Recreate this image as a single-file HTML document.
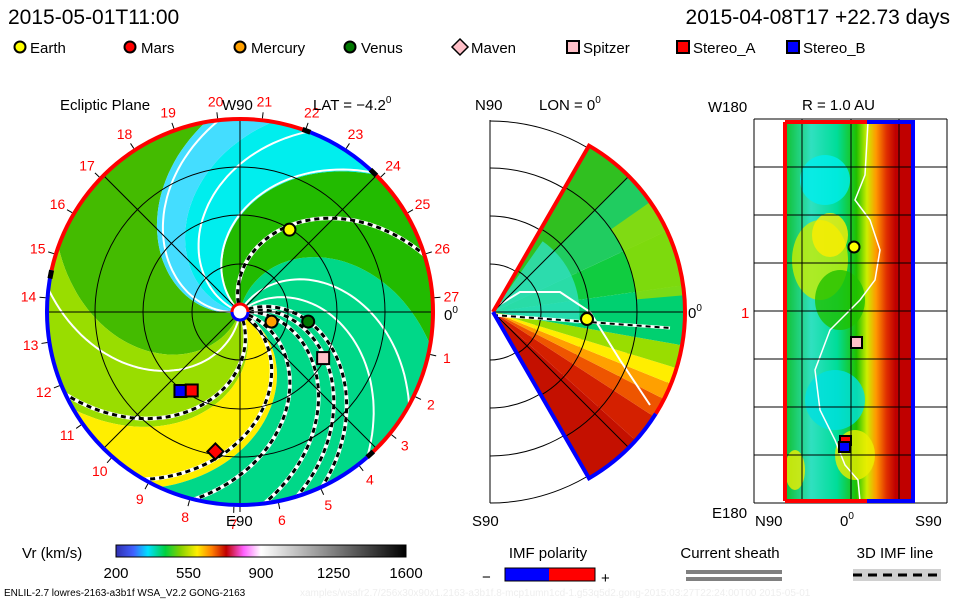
<!DOCTYPE html>
<html><head><meta charset="utf-8">
<style>
body{margin:0;background:#fff;}
svg{display:block;font-family:"Liberation Sans",sans-serif;}
</style></head>
<body>
<svg id="s" width="960" height="600" viewBox="0 0 960 600" xmlns="http://www.w3.org/2000/svg">
<defs>
<clipPath id="cc"><circle cx="240" cy="312" r="193"/></clipPath>
<linearGradient id="vrg" x1="0" x2="1" y1="0" y2="0">
<stop offset="0" stop-color="#3030b0"/><stop offset="0.06" stop-color="#4060ff"/><stop offset="0.11" stop-color="#00e0ff"/><stop offset="0.17" stop-color="#00d040"/><stop offset="0.22" stop-color="#80d000"/><stop offset="0.28" stop-color="#ffee00"/><stop offset="0.33" stop-color="#ff8000"/><stop offset="0.38" stop-color="#c00000"/><stop offset="0.44" stop-color="#ff60ff"/><stop offset="0.5" stop-color="#ffffff"/><stop offset="1" stop-color="#000000"/>
</linearGradient>
<linearGradient id="rg" x1="0" x2="1" y1="0" y2="0">
<stop offset="0" stop-color="#10c030"/><stop offset="0.2" stop-color="#30e0c0"/><stop offset="0.4" stop-color="#00dd99"/><stop offset="0.55" stop-color="#20c000"/><stop offset="0.63" stop-color="#ccee00"/><stop offset="0.7" stop-color="#ff9900"/><stop offset="0.78" stop-color="#e03000"/><stop offset="0.85" stop-color="#c00000"/><stop offset="1" stop-color="#c00000"/>
</linearGradient>
</defs>
<g id="left"></g>
<g id="mid"></g>
<g id="right"></g>

<text x="8" y="24" font-size="21">2015-05-01T11:00</text>
<text x="950" y="24" font-size="21" text-anchor="end">2015-04-08T17 +22.73 days</text>

<g font-size="15">
<g><circle cx="20" cy="47" r="5.5" fill="#ffff00" stroke="#000" stroke-width="2"/><text x="30" y="53">Earth</text></g>
<g><circle cx="130" cy="47" r="5.5" fill="#ff0000" stroke="#000" stroke-width="2"/><text x="141" y="53">Mars</text></g>
<g><circle cx="240" cy="47" r="5.5" fill="#ffa000" stroke="#000" stroke-width="2"/><text x="251" y="53">Mercury</text></g>
<g><circle cx="350" cy="47" r="5.5" fill="#007700" stroke="#000" stroke-width="2"/><text x="361" y="53">Venus</text></g>
<g><path d="M460 39 L468 47 L460 55 L452 47Z" fill="#ffc0c8" stroke="#000" stroke-width="1.5"/><text x="471" y="53">Maven</text></g>
<g><rect x="567" y="41" width="12" height="12" fill="#ffc0c8" stroke="#000" stroke-width="2"/><text x="583" y="53">Spitzer</text></g>
<g><rect x="677" y="41" width="12" height="12" fill="#ff0000" stroke="#000" stroke-width="2"/><text x="693" y="53">Stereo_A</text></g>
<g><rect x="787" y="41" width="12" height="12" fill="#0000ff" stroke="#000" stroke-width="2"/><text x="803" y="53">Stereo_B</text></g>
</g>

<g font-size="15">
<text x="60" y="110">Ecliptic Plane</text>
<text x="222" y="110">W90</text>
<text x="313" y="110">LAT = −4.2<tspan font-size="10" dy="-7">0</tspan></text>
<text x="475" y="110">N90</text>
<text x="539" y="110">LON = 0<tspan font-size="10" dy="-7">0</tspan></text>
<text x="802" y="110">R = 1.0 AU</text>
<text x="708" y="112">W180</text>
<text x="226" y="526">E90</text>
<text x="444" y="320">0<tspan font-size="10" dy="-7">0</tspan></text>
<text x="688" y="318">0<tspan font-size="10" dy="-7">0</tspan></text>
<text x="472" y="526">S90</text>
<text x="712" y="518">E180</text>
<text x="755" y="526">N90</text>
<text x="840" y="526">0<tspan font-size="10" dy="-7">0</tspan></text>
<text x="915" y="526">S90</text>
<text x="741" y="318" fill="#ff0000">1</text>
</g>

<g>
<text x="22" y="558" font-size="15">Vr (km/s)</text>
<rect x="116" y="545" width="290" height="12" fill="url(#vrg)" stroke="#000"/>
<g font-size="15" text-anchor="middle" id="cbt"></g>
</g>
<g>
<text x="548" y="558" font-size="15" text-anchor="middle">IMF polarity</text>
<rect x="505" y="568" width="44" height="13" fill="#0000ff"/><rect x="549" y="568" width="46" height="13" fill="#ff0000"/>
<rect x="505" y="568" width="90" height="13" fill="none" stroke="#000"/>
<text x="482" y="582" font-size="15">−</text><text x="601" y="583" font-size="15">+</text>
</g>
<g>
<text x="730" y="558" font-size="15" text-anchor="middle">Current sheath</text>
<rect x="686" y="570" width="96" height="4" fill="#808080"/><rect x="686" y="577" width="96" height="4" fill="#808080"/>
</g>
<g>
<text x="895" y="558" font-size="15" text-anchor="middle">3D IMF line</text>
<rect x="853" y="569" width="88" height="12" fill="#d0d0d0"/>
<line x1="853" y1="575" x2="941" y2="575" stroke="#000" stroke-width="3" stroke-dasharray="9,6"/>
</g>
<text x="4" y="596" font-size="10">ENLIL-2.7 lowres-2163-a3b1f WSA_V2.2 GONG-2163</text>
<text x="300" y="596" font-size="10" fill="#eeeeee">xamples/wsafr2.7/256x30x90x1.2163-a3b1f.8-mcp1umn1cd-1.g53q5d2.gong-2015:03:27T22:24:00T00    2015-05-01</text>
</svg>
<script>
// ---- data ----
var cbTicks=[200,550,900,1250,1600];
var bandStarts=[-171,-111,-61,-26,79,134,169];
var bandColors=["#44bb00","#99dd00","#ffee00","#00d888","#22bb00","#00eeee","#44ddff"];
var dashedSpirals=[106,-66,-31,-15,6,16,24];
var whiteSpirals=[-98,158,135,40,185,60];
var clockLabels=[1,2,3,4,5,6,7,8,9,10,11,12,13,14,15,16,17,18,19,20,21,22,23,24,25,26,27];
var polarityArcs=[[167.5,68.6,"#ff0000"],[68.6,45,"#0000ff"],[45,-48.8,"#ff0000"],[-48.8,-192.5,"#0000ff"]];
var planetNames=["earth","mercury","venus"];
var planetR=[0.99,0.34,0.71];
var planetLon=[59,-17,-8];
var planetFill=["#ffff00","#ffa000","#007700"];
var craftNames=["spitzer","stereo-b","stereo-a"];
var craftR=[0.98,1.02,0.95];
var craftLon=[-29,-127,-121.6];
var craftFill=["#ffc0c8","#0000ff","#ff0000"];
var marsR=1.46, marsLon=-100;
var midBandAngles=[-60,-42,-33,-27,-22,-17,-10,8,25,45,60];
var midBandColors=["#c41000","#d42000","#ee5500","#ffa000","#ffee00","#99dd00","#00d070","#10cc40","#20cc60","#30c020"];
// ---- helpers ----
var NS="http://www.w3.org/2000/svg";
function mk(p,tag,at){var e=document.createElementNS(NS,tag);for(var k in at)e.setAttribute(k,at[k]);p.appendChild(e);return e;}
var CX=240,CY=312,R=193,AU=97,C=0.46;
function pol(r,a){var t=a*Math.PI/180;return [CX+r*Math.cos(t),CY-r*Math.sin(t)];}
function spiralPts(t0,r1){var p=[];for(var r=0;r<=r1;r+=4){p.push(pol(r,t0-C*r));}return p;}
function ptsStr(p){return p.map(function(q){return q[0].toFixed(1)+","+q[1].toFixed(1);}).join(" ");}
var L=document.getElementById("left");
var g=mk(L,"g",{"clip-path":"url(#cc)"});


for(var i=0;i<bandStarts.length;i++){
 var a=bandStarts[i],b=(i+1<bandStarts.length?bandStarts[i+1]:bandStarts[0]+360);
 var p=spiralPts(a,212);var end=a-C*212,end2=b-C*212;
 for(var t=end;t<=end2;t+=3)p.push(pol(212,t));
 p=p.concat(spiralPts(b,212).reverse());
 var poly=mk(g,"polygon",{points:ptsStr(p),fill:bandColors[i]});
 
 
}
whiteSpirals.forEach(function(t0){var e=mk(g,"polyline",{points:ptsStr(spiralPts(t0,200)),fill:"none",stroke:"#fff","stroke-width":2});
 
 });
[48,97,145].forEach(function(r){var e=mk(L,"circle",{cx:CX,cy:CY,r:r,fill:"none",stroke:"#000","stroke-width":1});
 
 });
[0,45,90,135].forEach(function(a){var p1=pol(R,a),p2=pol(R,a+180);var e=mk(L,"line",{x1:p1[0],y1:p1[1],x2:p2[0],y2:p2[1],stroke:"#000","stroke-width":1});
 
 });
mk(L,"line",{x1:CX,y1:R+CY,x2:CX,y2:512,stroke:"#000"});
dashedSpirals.forEach(function(t0){var s=ptsStr(spiralPts(t0,196));
 var w=mk(g,"polyline",{points:s,fill:"none",stroke:"#fff","stroke-width":4});
 
 
 var d=mk(g,"polyline",{points:s,fill:"none",stroke:"#000","stroke-width":3,"stroke-dasharray":"5,4"});
 
 });
polarityArcs.forEach(function(a){var p1=pol(R,a[0]),p2=pol(R,a[1]);var large=Math.abs(a[0]-a[1])>180?1:0;
 var e=mk(L,"path",{d:"M"+p1[0]+" "+p1[1]+" A"+R+" "+R+" 0 "+large+" 1 "+p2[0]+" "+p2[1],fill:"none",stroke:a[2],"stroke-width":4});
 
 
 var m=pol(R,a[1]);var m2=pol(R,a[1]+2.5);var k=mk(L,"line",{x1:m[0],y1:m[1],x2:m2[0],y2:m2[1],stroke:"#000","stroke-width":5});
 
 });
clockLabels.forEach(function(n,i){var a=-12.6-13.2*i;var p=pol(212,a);var t1=pol(195,a),t2=pol(201,a);
 mk(L,"line",{x1:t1[0],y1:t1[1],x2:t2[0],y2:t2[1],stroke:"#000"});
 var e=mk(L,"text",{x:p[0],y:p[1]+5,"font-size":14,fill:"#ff0000","text-anchor":"middle"});e.textContent=n;
 
 });
var sun=mk(L,"circle",{cx:CX,cy:CY,r:8,fill:"#fff",stroke:"#ff0000","stroke-width":3});


mk(L,"path",{d:"M"+(CX-8)+" "+CY+" A8 8 0 0 0 "+(CX+8)+" "+CY,fill:"none",stroke:"#0000ff","stroke-width":3});
planetNames.forEach(function(n,i){var p=pol(planetR[i]*AU,planetLon[i]);var e=mk(L,"circle",{cx:p[0],cy:p[1],r:6,fill:planetFill[i],stroke:"#000","stroke-width":2});
 
 });
craftNames.forEach(function(n,i){var p=pol(craftR[i]*AU,craftLon[i]);var e=mk(L,"rect",{x:p[0]-6,y:p[1]-6,width:12,height:12,fill:craftFill[i],stroke:"#000","stroke-width":2});
 
 });
var mp=pol(marsR*AU,marsLon);
var md=mk(L,"path",{d:"M"+mp[0]+" "+(mp[1]-8)+" l8 8 l-8 8 l-8 -8Z",fill:"#ff0000",stroke:"#000","stroke-width":2});


var cbt=document.getElementById("cbt");
cbTicks.forEach(function(v){var x=116+(v-200)/1400*290;var e=mk(cbt,"text",{x:x,y:578});e.textContent=v;
 
 });
// middle panel
var M=document.getElementById("mid");var MX=493,MY=312,MR=192;
function mp2(r,a){var t=a*Math.PI/180;return [MX+r*Math.cos(t),MY-r*Math.sin(t)];}
function ps(p){return p[0].toFixed(1)+" "+p[1].toFixed(1);}
mk(M,"line",{x1:490,y1:120,x2:490,y2:503,stroke:"#000"});
[48,96,144,191].forEach(function(r){var e=mk(M,"path",{d:"M490 "+(MY-r)+" A"+r+" "+r+" 0 0 1 490 "+(MY+r),fill:"none",stroke:"#000"});
 
 });
for(var i=0;i<midBandColors.length;i++){var a=midBandAngles[i],b=midBandAngles[i+1];var p=[[MX,MY]];
 for(var t=a;t<=b+0.01;t+=2)p.push(mp2(MR,t));
 p.push(mp2(MR,b));
 var e=mk(M,"polygon",{points:ptsStr(p),fill:midBandColors[i]});
 
 }
var r45=MR*0.45;
mk(M,"path",{d:"M"+MX+" "+MY+" L"+ps(mp2(r45,55))+" A"+r45+" "+r45+" 0 0 1 "+ps(mp2(r45,-8))+"Z",fill:"#30e0c0",opacity:0.8});
mk(M,"path",{d:"M"+ps(mp2(MR*0.75,35))+" A"+(MR*0.75)+" "+(MR*0.75)+" 0 0 1 "+ps(mp2(MR*0.75,5))+" L"+ps(mp2(MR,5))+" A"+MR+" "+MR+" 0 0 0 "+ps(mp2(MR,35))+"Z",fill:"#99dd00",opacity:0.8});
mk(M,"polyline",{points:ptsStr([[494,308],[520,292],[560,292],[590,312],[620,360],[650,405]]),fill:"none",stroke:"#fff","stroke-width":2});
[0,45,-45].forEach(function(a){var p=mp2(MR,a);mk(M,"line",{x1:MX,y1:MY,x2:p[0],y2:p[1],stroke:"#000"});});
[48,96,144].forEach(function(r){mk(M,"path",{d:"M"+ps(mp2(r,60))+" A"+r+" "+r+" 0 0 1 "+ps(mp2(r,-60)),fill:"none",stroke:"#000"});});
mk(M,"line",{x1:493,y1:315,x2:670,y2:328,stroke:"#fff","stroke-width":3});
mk(M,"line",{x1:493,y1:315,x2:670,y2:328,stroke:"#000","stroke-width":2,"stroke-dasharray":"5,4"});
mk(M,"path",{d:"M"+MX+" "+MY+" L"+ps(mp2(MR,60))+" A"+MR+" "+MR+" 0 0 1 "+ps(mp2(MR,-32)),fill:"none",stroke:"#ff0000","stroke-width":4});
mk(M,"path",{d:"M"+ps(mp2(MR,-32))+" A"+MR+" "+MR+" 0 0 1 "+ps(mp2(MR,-60))+" L"+MX+" "+MY,fill:"none",stroke:"#0000ff","stroke-width":4});
var me=mk(M,"circle",{cx:587,cy:319,r:6,fill:"#ffff00",stroke:"#000","stroke-width":2});


// right panel
var RG=document.getElementById("right");
mk(RG,"rect",{x:785,y:122,width:130,height:379,fill:"url(#rg)"});
[[820,260,28,40,"#ccee00"],[830,235,18,22,"#ffee00"],[825,180,25,25,"#00eeee"],[840,300,25,30,"#20c000"],[835,400,30,30,"#00e0e0"],[855,455,20,25,"#eeee00"],[795,470,10,20,"#eeee00"]].forEach(function(b){mk(RG,"ellipse",{cx:b[0],cy:b[1],rx:b[2],ry:b[3],fill:b[4],opacity:0.8});});
mk(RG,"polyline",{points:"868,122 865,175 855,200 870,220 880,250 875,280 860,300 830,330 815,370 820,410 835,440 845,465 858,480 860,501",fill:"none",stroke:"#fff","stroke-width":1.5});
for(var y=119;y<=503;y+=48)mk(RG,"line",{x1:754,y1:y,x2:947,y2:y,stroke:"#000"});
[754,802,851,899,947].forEach(function(x){mk(RG,"line",{x1:x,y1:119,x2:x,y2:503,stroke:"#000"});});
mk(RG,"line",{x1:785,y1:122,x2:785,y2:501,stroke:"#ff0000","stroke-width":4});
mk(RG,"polyline",{points:"785,122 867,122",stroke:"#ff0000","stroke-width":4,fill:"none"});
mk(RG,"polyline",{points:"785,501 867,501",stroke:"#ff0000","stroke-width":4,fill:"none"});
mk(RG,"polyline",{points:"867,122 913,122 913,501 867,501",stroke:"#0000ff","stroke-width":4,fill:"none"});
var re=mk(RG,"circle",{cx:854,cy:247,r:5.5,fill:"#ffff00",stroke:"#000","stroke-width":2});


mk(RG,"rect",{x:851,y:337,width:11,height:11,fill:"#ffc0c8",stroke:"#000","stroke-width":2});
mk(RG,"rect",{x:840,y:436,width:11,height:9,fill:"#ff0000",stroke:"#000","stroke-width":2});
mk(RG,"rect",{x:839,y:442,width:11,height:10,fill:"#0000ff",stroke:"#000","stroke-width":2});
</script>
</body></html>
